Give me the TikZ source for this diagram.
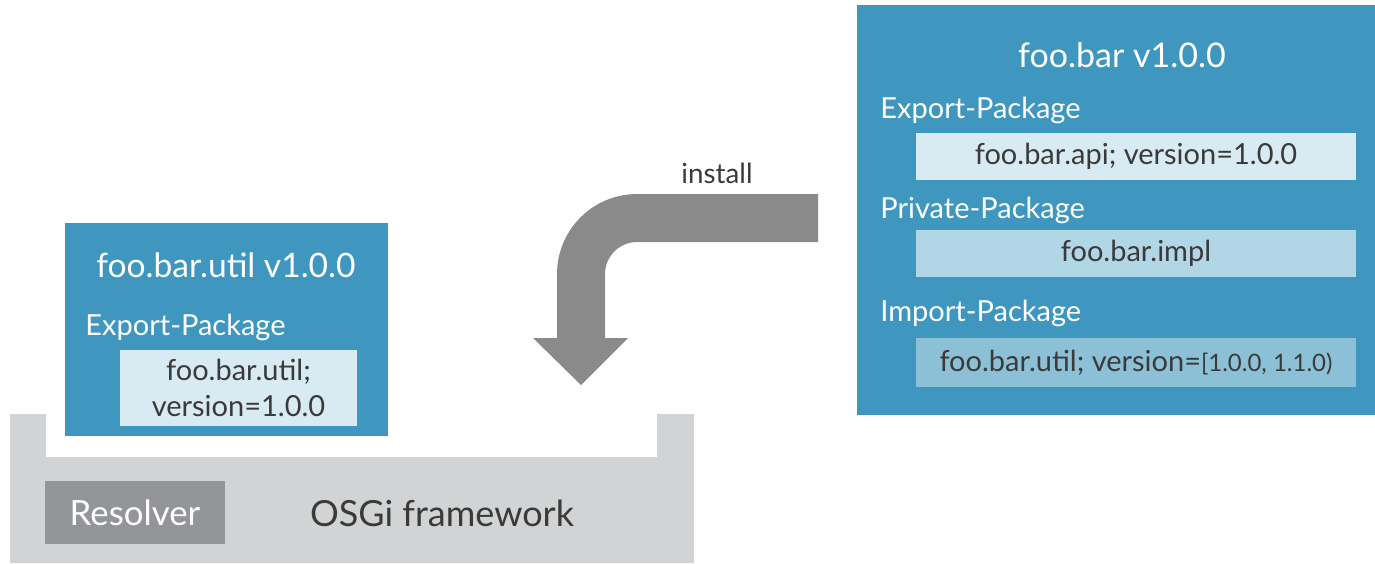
\documentclass[tikz,border=0pt]{standalone}
\usepackage{fontspec}
\setmainfont{Lato}
\usetikzlibrary{positioning}
\definecolor{bundleblue}{HTML}{3F97BF}
\definecolor{pkglight}{HTML}{D8EBF3}
\definecolor{pkgmid}{HTML}{B1D6E5}
\definecolor{pkgdark}{HTML}{8CC0D6}
\definecolor{fwgray}{HTML}{D1D3D4}
\definecolor{resgray}{HTML}{939598}
\definecolor{arrowgray}{HTML}{8A8A8A}
\definecolor{txtdark}{HTML}{3A3A3A}

\tikzset{
  block/.style 2 args={rectangle, inner sep=0pt, minimum width=#1*0.5pt, minimum height=#2*0.5pt},
  bundletitle/.style={text=white, font=\fontsize{16.8}{20}\selectfont},
  header/.style={anchor=west, inner sep=0pt, text=white, font=\fontsize{14.5}{17}\selectfont},
  pkgtext/.style={text=txtdark, font=\fontsize{14.5}{18}\selectfont, align=center}
}

\begin{document}
\begin{tikzpicture}[x=0.5pt, y=-0.5pt]
\useasboundingbox (0,0) rectangle (1375,563);

% framework tray
\fill [fwgray] (10,414) -- (46,414) -- (46,457) -- (657,457) -- (657,414) -- (694,414) -- (694,563) -- (10,563) -- cycle;
\node [block={180}{63}, fill=resgray, text=white, font=\fontsize{17.4}{20}\selectfont] (resolver) at (135,512.5) {Resolver};
\node [text=txtdark, font=\fontsize{18}{21}\selectfont] (osgi) at (442,513) {OSGi framework};

% installed bundle
\node [block={323}{213}, fill=bundleblue] (utilbundle) at (226.5,329) {};
\node [bundletitle] (utiltitle) at (226,265) {foo.bar.util v1.0.0};
\node [header] (utilexp) at (85,327) {Export-Package};
\node [block={237}{76}, fill=pkglight, pkgtext] (utilpkg) at (238.5,388) {foo.bar.util;\\version=1.0.0};

% new bundle
\node [block={518}{410}, fill=bundleblue] (barbundle) at (1116,210) {};
\node [bundletitle, font=\fontsize{17}{20}\selectfont] (bartitle) at (1122,55) {foo.bar v1.0.0};
\node [header] (barexp) at (880,110) {Export-Package};
\node [block={440}{47}, fill=pkglight, pkgtext] (apipkg) at (1136,156.5) {foo.bar.api; version=1.0.0};
\node [header] (barpriv) at (880,210) {Private-Package};
\node [block={440}{47}, fill=pkgmid, pkgtext] (implpkg) at (1136,253.5) {foo.bar.impl};
\node [header] (barimp) at (880,313) {Import-Package};
\node [block={440}{49}, fill=pkgdark, pkgtext] (imppkg) at (1136,362.5) {foo.bar.util; version={\fontsize{12}{14}\selectfont[1.0.0, 1.1.0)}};

% install arrow
\coordinate (from) at (818,218);
\coordinate (to) at (581,339);
\draw [line width=24pt, arrowgray, rounded corners=28pt] (from) -| (to);
\fill [arrowgray] (533,338) -- (628,338) -- (581,385) -- cycle;
\node [text=txtdark, font=\fontsize{13.9}{16}\selectfont] (install) at (717,173) {install};
\end{tikzpicture}
\end{document}
